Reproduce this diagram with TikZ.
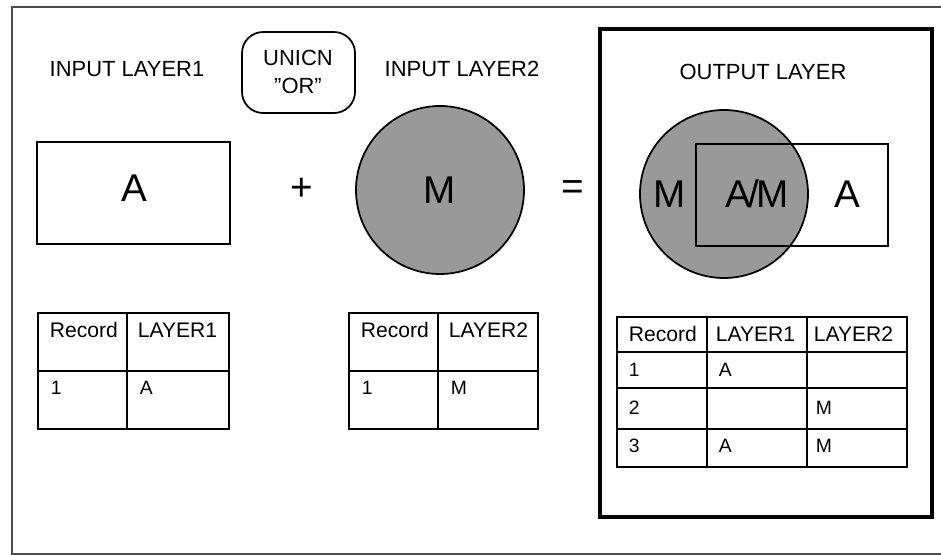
\documentclass[tikz,border=0pt]{standalone}
\usepackage{fontspec}
\setmainfont{Liberation Sans}
\definecolor{shade}{gray}{.6}
\begin{document}
\begin{tikzpicture}[x=0.02cm,y=-0.02cm,line width=1pt,
  title/.style={font=\fontsize{12.5}{16}\selectfont},
  big/.style={font=\fontsize{22}{26}\selectfont},
  cell/.style={anchor=west,inner sep=0pt,font=\fontsize{12}{14}\selectfont},
  entry/.style={anchor=west,inner sep=0pt,font=\fontsize{11}{13}\selectfont}]
\useasboundingbox (0,0) rectangle (941,555);
% page frame, open to the right
\draw[line width=1pt,black!70] (945,7) -- (12,7) -- (12,554) -- (945,554);
% headings
\node[title] (in1) at (127,69) {INPUT LAYER1};
\draw[rounded corners=12] (242,32) rectangle (355,113);
\node[title,align=center] (op) at (298,72) {UNICN\\\char34 OR\char34};
\node[title] (in2) at (462,69) {INPUT LAYER2};
% the two inputs
\draw (37,142) rectangle (230,244);
\node[big] (a) at (134,188) {A};
\node[big] (plus) at (302,189) {+};
\filldraw[fill=shade] (440,190) circle [radius=84];
\node[big] (m) at (440,190) {M};
\node[big] (eq) at (573,190) {=};
% output layer
\draw[line width=1.8pt] (600,29) rectangle (932,517);
\node[title] (out) at (763,72) {OUTPUT LAYER};
\filldraw[fill=shade] (724,194) circle [radius=84];
\draw (696,144) rectangle (888,246);
\node[big] (om) at (670,194) {M};
\node[big] (oam) at (757,194) {A\kern-1.5pt/\kern-1.5pt M};
\node[big] (oa) at (847,194) {A};
% attribute table 1
\draw (38,313) rectangle (229,429);
\draw (127,313) -- (127,429) (38,371) -- (229,371);
\node[cell] (h1r) at (49,330) {Record};
\node[cell] (h1l) at (137,330) {LAYER1};
\node[entry] (r1n) at (50,388) {1};
\node[entry] (r1a) at (139,388) {A};
% attribute table 2
\draw (349,313) rectangle (538,429);
\draw (438,313) -- (438,429) (349,371) -- (538,371);
\node[cell] (h2r) at (360,330) {Record};
\node[cell] (h2l) at (448,330) {LAYER2};
\node[entry] (r2n) at (361,388) {1};
\node[entry] (r2m) at (450,388) {M};
% output table
\draw (617,317) rectangle (907,467);
\foreach \x in {707,807}
\draw (\x,317) -- (\x,467);
\foreach \y in {352,388,429}
\draw (617,\y) -- (907,\y);
\node[cell] (h3r) at (628,334) {Record};
\node[cell] (h3a) at (715,334) {LAYER1};
\node[cell] (h3b) at (813,334) {LAYER2};
\foreach \r/\y/\a/\b in {1/370/A/,2/408//M,3/446/A/M}{
\node[entry] (n\r) at (628,\y) {\r};
\node[entry] (p\r) at (718,\y) {\a};
\node[entry] (q\r) at (815,\y) {\b};
}
\end{tikzpicture}
\end{document}
